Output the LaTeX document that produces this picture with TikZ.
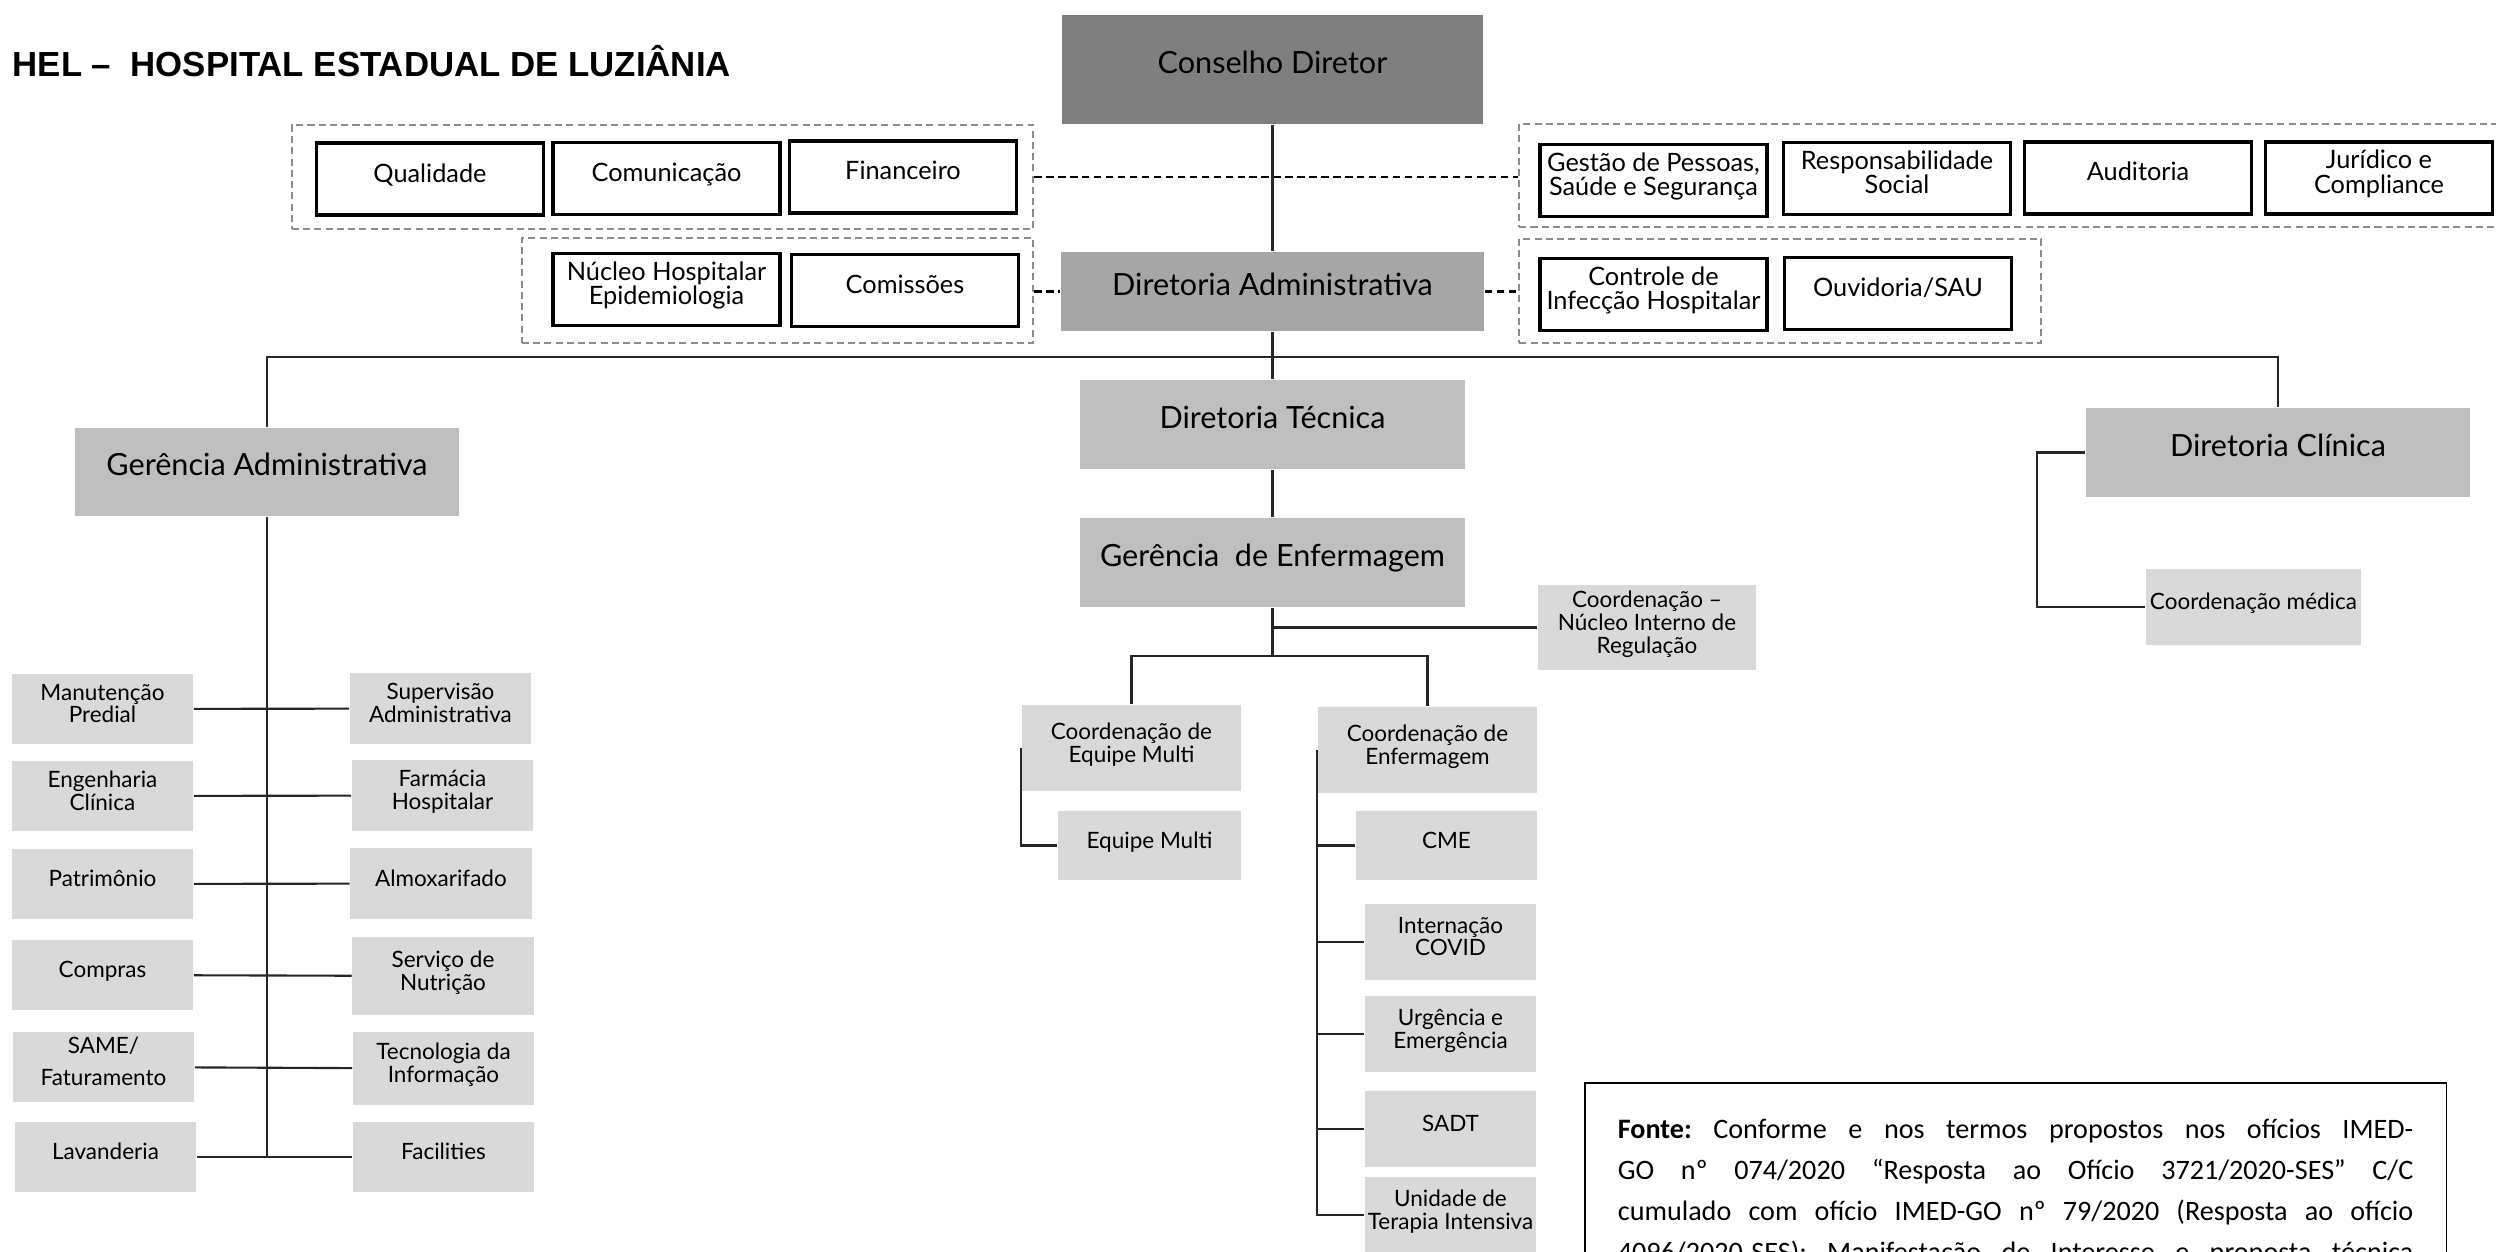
\documentclass[tikz,border=0pt]{standalone}
\usepackage{fontspec}
\usepackage{tikz}
\newfontfamily\caixa{Lato}
\newfontfamily\titulo{Liberation Sans}
\newfontfamily\fontetxt{Carlito}
\definecolor{cinzaA}{HTML}{7F7F7F}
\definecolor{cinzaD}{HTML}{A6A6A6}
\definecolor{cinzaB}{HTML}{BFBFBF}
\definecolor{cinzaC}{HTML}{D9D9D9}
\definecolor{cinzaT}{HTML}{8C8C8C}

\begin{document}
\begin{tikzpicture}[
    x=0.01cm,y=-0.01cm,
    linha/.style={line width=0.6pt, black!85},
    tracejado/.style={line width=0.6pt, black, dash pattern=on 2.1pt off 1.3pt},
    grupo/.style={draw=cinzaT, line width=0.6pt, dash pattern=on 2pt off 1.2pt, inner sep=0pt},
    caixa/.style={inner sep=0.5pt, align=center, execute at end node={\rule[-0.5em]{0pt}{0pt}}},
    direcao/.style={caixa, font=\caixa\fontsize{8.7}{10}\selectfont},
    gerencia/.style={direcao, fill=cinzaB, minimum width=3.84cm, minimum height=0.89cm},
    apoio/.style={caixa, draw, line width=0.95pt, fill=white, minimum width=2.27cm, minimum height=0.72cm, font=\caixa\fontsize{7.2}{7.1}\selectfont},
    setor/.style={caixa, fill=cinzaC, minimum width=1.81cm, minimum height=0.7cm, font=\caixa\fontsize{6.4}{6.5}\selectfont},
    fontebox/.style={draw, line width=0.5pt, anchor=north west, text width=7.95cm, inner xsep=0.33cm, inner ysep=0.36cm, font=\fontetxt\fontsize{8}{11.7}\selectfont}
    ]
    \useasboundingbox (0,0) rectangle (2496,1251);
    \clip (0,0) rectangle (2496,1251);
    \node[anchor=base west, inner sep=0pt, font=\titulo\bfseries\fontsize{9.9}{12}\selectfont] (tit) at (12,76) {HEL –\ \ HOSPITAL ESTADUAL DE LUZIÂNIA};

    \node[grupo, minimum width=7.41cm, minimum height=1.04cm] (gE1) at (662.5,177) {};
    \node[grupo, minimum width=10cm, minimum height=1.03cm] (gD1) at (2019.5,175.5) {};
    \node[grupo, minimum width=5.11cm, minimum height=1.05cm] (gE2) at (777.5,290.5) {};
    \node[grupo, minimum width=5.215cm, minimum height=1.04cm] (gD2) at (1780.25,291) {};

    \node[direcao, fill=cinzaA, minimum width=4.21cm, minimum height=1.09cm] (cd) at (1272.5,69.5) {Conselho Diretor};
    \node[direcao, fill=cinzaD, minimum width=4.23cm, minimum height=0.79cm] (da) at (1272.5,291.5) {Diretoria Administrativa};
    \node[gerencia] (dt) at (1272.5,424.5) {Diretoria Técnica};
    \node[gerencia] (ge) at (1272.5,562.5) {Gerência\ \ de Enfermagem};
    \node[gerencia, minimum height=0.88cm] (ga) at (267,472) {Gerência Administrativa};
    \node[gerencia] (dc) at (2278,452.5) {Diretoria Clínica};

    \node[apoio] (qual) at (430,179) {Qualidade};
    \node[apoio] (comu) at (666.5,178.5) {Comunicação};
    \node[apoio] (fin) at (903,177) {Financeiro};
    \node[apoio] (gp) at (1653.5,180.5) {Gestão de Pessoas,\\Saúde e Segurança};
    \node[apoio] (rs) at (1897,178.5) {Responsabilidade\\Social};
    \node[apoio] (aud) at (2138,178) {Auditoria};
    \node[apoio] (jur) at (2379,178) {Jurídico e\\Compliance};
    \node[apoio] (nh) at (666.5,289.5) {Núcleo Hospitalar\\Epidemiologia};
    \node[apoio] (comi) at (905,290.5) {Comissões};
    \node[apoio] (cih) at (1653.5,294.5) {Controle de\\Infecção Hospitalar};
    \node[apoio] (ouv) at (1898,293.5) {Ouvidoria/SAU};

    \node[setor] (man) at (102.5,709) {Manutenção\\Predial};
    \node[setor] (eng) at (102.5,796) {Engenharia\\Clínica};
    \node[setor] (pat) at (102.5,884) {Patrimônio};
    \node[setor] (comp) at (102.5,975) {Compras};
    \node[setor] (same) at (103.5,1067) {SAME/\\[2.6pt]Faturamento};
    \node[setor] (lav) at (105.5,1157) {Lavanderia};
    \node[setor] (sup) at (440.5,708.5) {Supervisão\\Administrativa};
    \node[setor] (far) at (442.5,795.5) {Farmácia\\Hospitalar};
    \node[setor] (alm) at (441,883.5) {Almoxarifado};
    \node[setor, minimum height=0.78cm] (nut) at (443,976) {Serviço de\\Nutrição};
    \node[setor, minimum height=0.73cm] (ti) at (443.5,1068.5) {Tecnologia da\\Informação};
    \node[setor] (fac) at (443.5,1157) {Facilities};

    \node[setor, minimum width=2.18cm, minimum height=0.85cm] (cnir) at (1647,627.5) {Coordenação –\\Núcleo Interno de\\Regulação};
    \node[setor, minimum width=2.19cm, minimum height=0.86cm] (cem) at (1131.5,748) {Coordenação de\\Equipe Multi};
    \node[setor, minimum width=1.83cm, minimum height=0.69cm] (em) at (1149.5,845.5) {Equipe Multi};
    \node[setor, minimum width=2.19cm, minimum height=0.86cm] (cenf) at (1427.5,750) {Coordenação de\\Enfermagem};
    \node[setor, minimum height=0.69cm] (cme) at (1446.5,845.5) {CME};
    \node[setor, minimum width=1.71cm, minimum height=0.76cm] (int) at (1450.5,942) {Internação\\COVID};
    \node[setor, minimum width=1.71cm, minimum height=0.76cm] (urg) at (1450.5,1034) {Urgência e\\Emergência};
    \node[setor, minimum width=1.71cm, minimum height=0.76cm] (sadt) at (1450.5,1129) {SADT};
    \node[setor, minimum width=1.71cm, minimum height=0.76cm] (uti) at (1450.5,1215) {Unidade de\\Terapia Intensiva};
    \node[setor, minimum width=2.15cm, minimum height=0.76cm] (cm) at (2253.5,607) {Coordenação médica};

    \node[fontebox] (fonte) at (1584,1082) {\frenchspacing\spaceskip=0.22em plus 1fil\xspaceskip=0.22em plus 1fil\noindent
      \makebox[7.95cm][s]{\textbf{Fonte:} Conforme e nos termos propostos nos ofícios IMED-}\\
      \makebox[7.95cm][s]{GO nº 074/2020 “Resposta ao Ofício 3721/2020-SES” C/C}\\
      \makebox[7.95cm][s]{cumulado com ofício IMED-GO nº 79/2020 (Resposta ao ofício}\\
      \makebox[7.95cm][s]{4096/2020-SES): Manifestação de Interesse e proposta técnica}};

    \coordinate (eixo) at (1272.5,357);
    \coordinate (ramo) at (1272.5,656);
    \draw[tracejado] (gE1.east) -- (gE1.east -| gD1.west);
    \draw[tracejado] (gE2.east |- da.west) -- (da.west);
    \draw[tracejado] (da.east) -- (da.east -| gD2.west);
    \draw[linha] (cd) -- (da);
    \draw[linha] (da) -- (eixo);
    \draw[linha] (ga) |- (eixo) -| (dc);
    \draw[linha] (eixo) -- (dt);
    \draw[linha] (ga) -- (ga |- lav);
    \draw[linha] (man) -- (sup);
    \draw[linha] (eng) -- (far);
    \draw[linha] (pat) -- (alm);
    \draw[linha] (comp) -- (nut);
    \draw[linha] (same) -- (ti);
    \draw[linha] (lav) -- (fac);
    \draw[linha] (dt) -- (ge);
    \draw[linha] (ge) -- (ramo);
    \draw[linha] (ge |- cnir) -- (cnir);
    \draw[linha] (cem) |- (ramo) -| (cenf);
    \draw[linha] (cem.west) |- (em);
    \draw[linha] (cenf.west) |- (uti);
    \draw[linha] (cenf.west |- cme) -- (cme);
    \draw[linha] (cenf.west |- int) -- (int);
    \draw[linha] (cenf.west |- urg) -- (urg);
    \draw[linha] (cenf.west |- sadt) -- (sadt);
    \draw[linha] (dc.west) -- ++(-48,0) |- (cm);
  \end{tikzpicture}
\end{document}
